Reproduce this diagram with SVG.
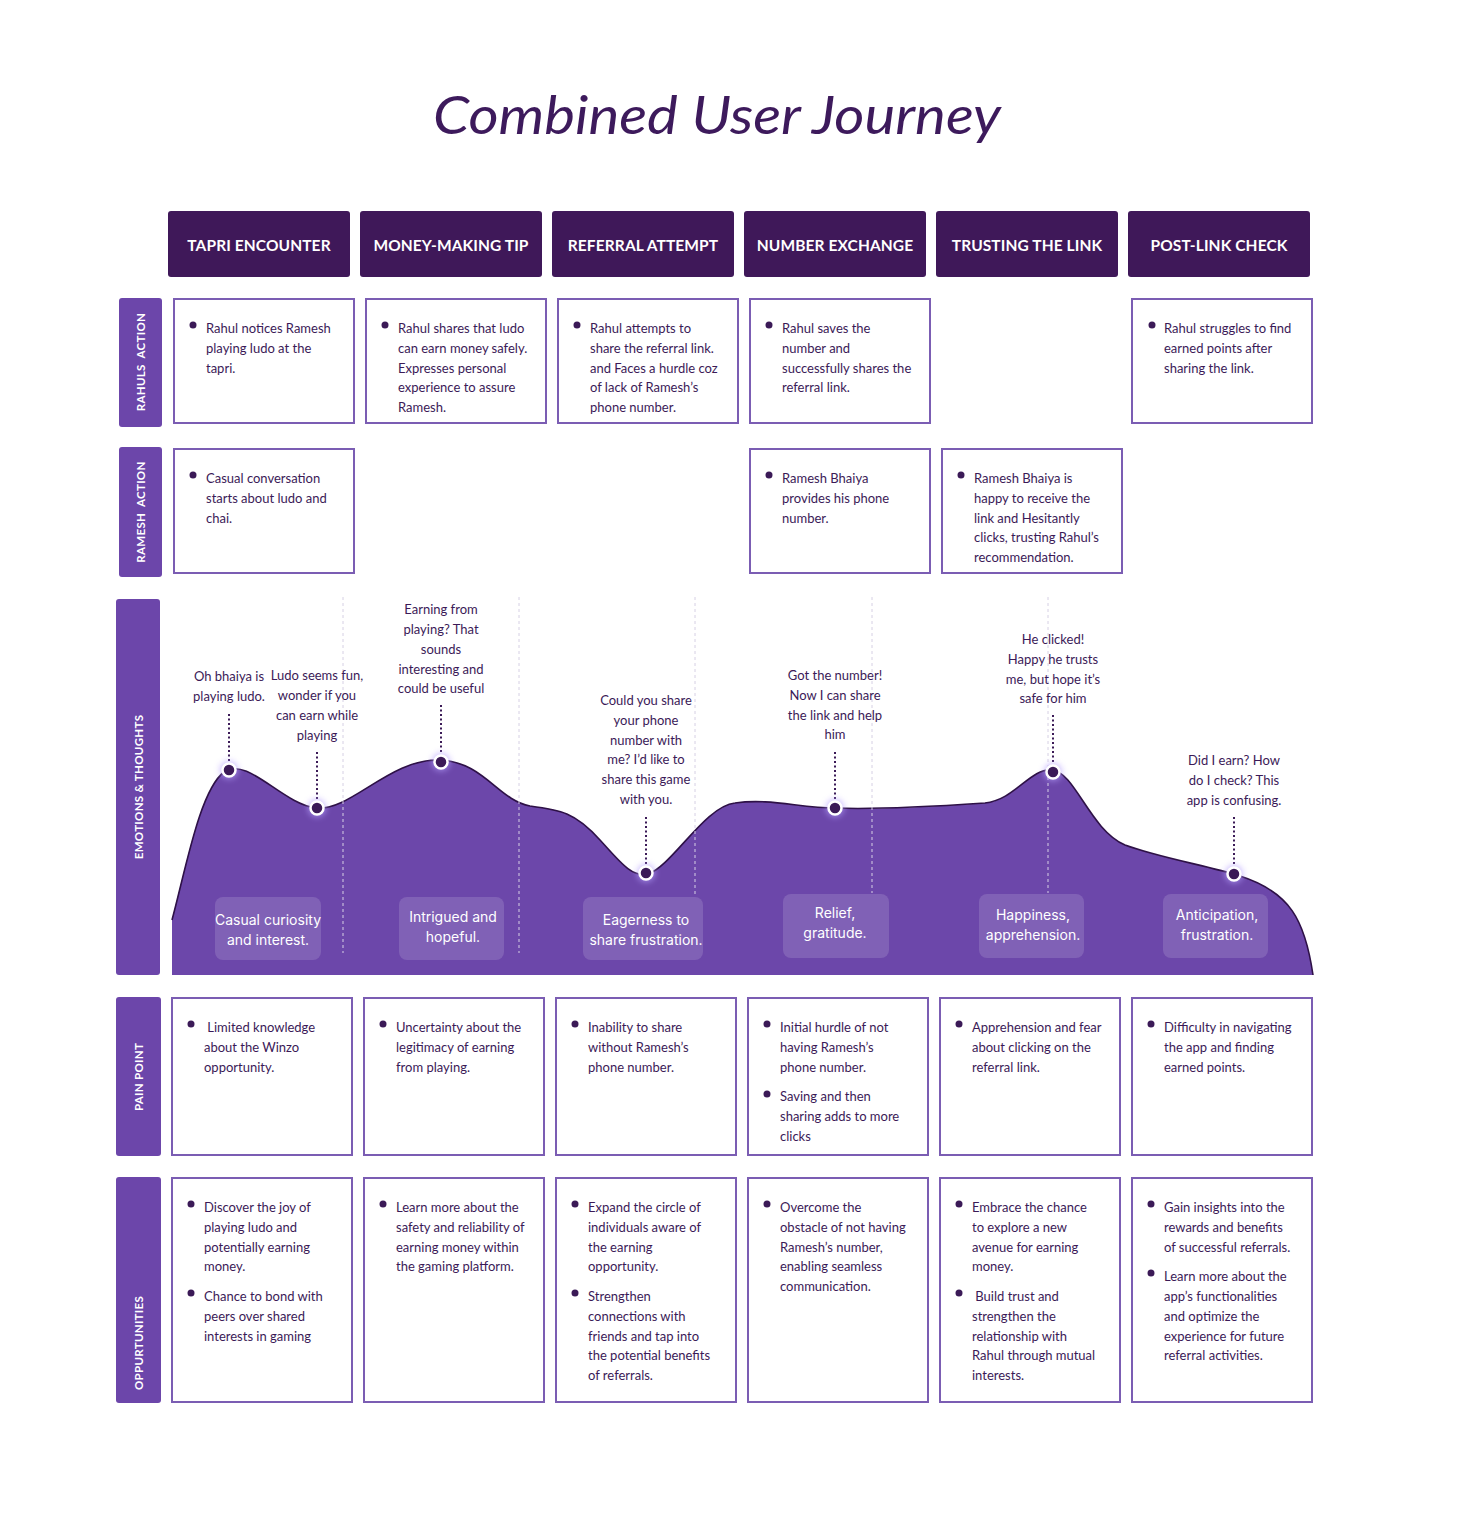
<svg xmlns="http://www.w3.org/2000/svg" width="1458" height="1536" viewBox="0 0 1458 1536">
  <defs>
    <style>
      .title { font-family: Lato, "Liberation Sans", sans-serif; font-style: italic; font-size: 52px; fill: #3d1a5c; }
      .hdr { fill: #3f1859; }
      .hdr-t { font-family: Lato, "Liberation Sans", sans-serif; font-weight: 700; font-size: 15.5px; fill: #ffffff; text-anchor: middle; letter-spacing: 0.1px; }
      .side { fill: #6c46aa; }
      .side-t { font-family: Lato, "Liberation Sans", sans-serif; font-weight: 700; font-size: 11.5px; fill: #ffffff; text-anchor: middle; letter-spacing: 0.3px; }
      .card { fill: #ffffff; stroke: #7b5db3; stroke-width: 2; }
      .body { font-family: Lato, "Liberation Sans", sans-serif; font-size: 13px; fill: #3b1a57; }
      .dot { fill: #3b1a57; }
      .thought { font-family: Lato, "Liberation Sans", sans-serif; font-size: 13px; fill: #3b1a57; text-anchor: middle; }
      .emo { fill: #ffffff; fill-opacity: 0.14; }
      .emo-t { font-family: Inter, "Liberation Sans", sans-serif; font-size: 14px; fill: #ffffff; text-anchor: middle; }
      .divider { stroke: #d6d0e4; stroke-width: 1; stroke-dasharray: 3 3; fill: none; }
      .link { stroke: #3b1a57; stroke-width: 2; stroke-dasharray: 2 2.5; fill: none; }
      .pt { fill: #3b1a57; stroke: #ffffff; stroke-width: 2.5; }
    </style>
    <filter id="glow" x="-100%" y="-100%" width="300%" height="300%">
      <feGaussianBlur stdDeviation="3"/>
    </filter>
  </defs>

  <rect width="1458" height="1536" fill="#ffffff"/>

  <text class="title" x="433" y="134" textLength="568" lengthAdjust="spacingAndGlyphs">Combined User Journey</text>

  <!-- Stage headers -->
  <g id="stage-tapri"><rect class="hdr" x="168" y="211" width="182" height="66" rx="3"/><text class="hdr-t" x="259" y="251">TAPRI ENCOUNTER</text></g>
  <g id="stage-money"><rect class="hdr" x="360" y="211" width="182" height="66" rx="3"/><text class="hdr-t" x="451" y="251">MONEY-MAKING TIP</text></g>
  <g id="stage-referral"><rect class="hdr" x="552" y="211" width="182" height="66" rx="3"/><text class="hdr-t" x="643" y="251">REFERRAL ATTEMPT</text></g>
  <g id="stage-number"><rect class="hdr" x="744" y="211" width="182" height="66" rx="3"/><text class="hdr-t" x="835" y="251">NUMBER EXCHANGE</text></g>
  <g id="stage-trust"><rect class="hdr" x="936" y="211" width="182" height="66" rx="3"/><text class="hdr-t" x="1027" y="251">TRUSTING THE LINK</text></g>
  <g id="stage-post"><rect class="hdr" x="1128" y="211" width="182" height="66" rx="3"/><text class="hdr-t" x="1219" y="251">POST-LINK CHECK</text></g>

  <!-- Row labels -->
  <g id="label-rahul"><rect class="side" x="119" y="298" width="43" height="129" rx="3"/><text class="side-t" xml:space="preserve" transform="translate(145,362) rotate(-90)">RAHULS  ACTION</text></g>
  <g id="label-ramesh"><rect class="side" x="119" y="447" width="43" height="130" rx="3"/><text class="side-t" xml:space="preserve" transform="translate(145,512) rotate(-90)">RAMESH  ACTION</text></g>
  <g id="label-emotions"><rect class="side" x="116" y="599" width="44" height="376" rx="3"/><text class="side-t" transform="translate(142.5,787) rotate(-90)">EMOTIONS &amp; THOUGHTS</text></g>
  <g id="label-pain"><rect class="side" x="116" y="997" width="45" height="159" rx="3"/><text class="side-t" transform="translate(143,1077) rotate(-90)">PAIN POINT</text></g>
  <g id="label-opps"><rect class="side" x="116" y="1177" width="45" height="226" rx="3"/><text class="side-t" transform="translate(143,1343) rotate(-90)">OPPURTUNITIES</text></g>

  <!-- Rahul's actions -->
  <g id="rahul-1"><rect class="card" x="174" y="299" width="180" height="124"/><circle class="dot" cx="193" cy="325" r="3.5"/>
    <text class="body"><tspan x="206" y="333">Rahul notices Ramesh</tspan><tspan x="206" y="353">playing ludo at the</tspan><tspan x="206" y="373">tapri.</tspan></text></g>
  <g id="rahul-2"><rect class="card" x="366" y="299" width="180" height="124"/><circle class="dot" cx="385" cy="325" r="3.5"/>
    <text class="body"><tspan x="398" y="333">Rahul shares that ludo</tspan><tspan x="398" y="353">can earn money safely.</tspan><tspan x="398" y="373">Expresses personal</tspan><tspan x="398" y="392">experience to assure</tspan><tspan x="398" y="412">Ramesh.</tspan></text></g>
  <g id="rahul-3"><rect class="card" x="558" y="299" width="180" height="124"/><circle class="dot" cx="577" cy="325" r="3.5"/>
    <text class="body"><tspan x="590" y="333">Rahul attempts to</tspan><tspan x="590" y="353">share the referral link.</tspan><tspan x="590" y="373">and Faces a hurdle coz</tspan><tspan x="590" y="392">of lack of Ramesh’s</tspan><tspan x="590" y="412">phone number.</tspan></text></g>
  <g id="rahul-4"><rect class="card" x="750" y="299" width="180" height="124"/><circle class="dot" cx="769" cy="325" r="3.5"/>
    <text class="body"><tspan x="782" y="333">Rahul saves the</tspan><tspan x="782" y="353">number and</tspan><tspan x="782" y="373">successfully shares the</tspan><tspan x="782" y="392">referral link.</tspan></text></g>
  <g id="rahul-6"><rect class="card" x="1132" y="299" width="180" height="124"/><circle class="dot" cx="1152" cy="325" r="3.5"/>
    <text class="body"><tspan x="1164" y="333">Rahul struggles to find</tspan><tspan x="1164" y="353">earned points after</tspan><tspan x="1164" y="373">sharing the link.</tspan></text></g>

  <!-- Ramesh's actions -->
  <g id="ramesh-1"><rect class="card" x="174" y="449" width="180" height="124"/><circle class="dot" cx="193" cy="475" r="3.5"/>
    <text class="body"><tspan x="206" y="483">Casual conversation</tspan><tspan x="206" y="503">starts about ludo and</tspan><tspan x="206" y="523">chai.</tspan></text></g>
  <g id="ramesh-4"><rect class="card" x="750" y="449" width="180" height="124"/><circle class="dot" cx="769" cy="475" r="3.5"/>
    <text class="body"><tspan x="782" y="483">Ramesh Bhaiya</tspan><tspan x="782" y="503">provides his phone</tspan><tspan x="782" y="523">number.</tspan></text></g>
  <g id="ramesh-5"><rect class="card" x="942" y="449" width="180" height="124"/><circle class="dot" cx="961" cy="475" r="3.5"/>
    <text class="body"><tspan x="974" y="483">Ramesh Bhaiya is</tspan><tspan x="974" y="503">happy to receive the</tspan><tspan x="974" y="523">link and Hesitantly</tspan><tspan x="974" y="542">clicks, trusting Rahul’s</tspan><tspan x="974" y="562">recommendation.</tspan></text></g>

  <!-- Emotion curve -->
  <g id="emotion-curve">
    <path fill="#6c47aa" d="M172,920 C186,868 200,790 224,772 C248,756 282,804 316,808 C350,812 390,758 440,760 C484,762 498,800 530,806 C560,810 575,812 600,840 C620,862 632,878 648,874 C672,866 705,806 735,803 C770,798 800,808 835,808 C880,810 940,806 985,803 C1015,800 1030,768 1052,770 C1075,772 1090,830 1125,845 C1160,858 1210,866 1240,876 C1290,892 1305,920 1313,975 L172,975 Z"/>
    <path fill="none" stroke="#2e1147" stroke-width="1.6" d="M172,920 C186,868 200,790 224,772 C248,756 282,804 316,808 C350,812 390,758 440,760 C484,762 498,800 530,806 C560,810 575,812 600,840 C620,862 632,878 648,874 C672,866 705,806 735,803 C770,798 800,808 835,808 C880,810 940,806 985,803 C1015,800 1030,768 1052,770 C1075,772 1090,830 1125,845 C1160,858 1210,866 1240,876 C1290,892 1305,920 1313,975"/>
  </g>

  <!-- Stage dividers -->
  <g id="dividers">
    <line class="divider" x1="343" y1="597" x2="343" y2="953"/>
    <line class="divider" x1="519" y1="597" x2="519" y2="953"/>
    <line class="divider" x1="695" y1="597" x2="695" y2="895"/>
    <line class="divider" x1="872" y1="597" x2="872" y2="893"/>
    <line class="divider" x1="1048" y1="597" x2="1048" y2="893"/>
  </g>

  <!-- Emotion tags -->
  <g id="emo-1"><rect class="emo" x="215" y="897" width="106" height="63" rx="8"/><text class="emo-t"><tspan x="268" y="925">Casual curiosity</tspan><tspan x="268" y="945">and interest.</tspan></text></g>
  <g id="emo-2"><rect class="emo" x="399" y="897" width="105" height="63" rx="8"/><text class="emo-t"><tspan x="453" y="922">Intrigued and</tspan><tspan x="453" y="942">hopeful.</tspan></text></g>
  <g id="emo-3"><rect class="emo" x="583" y="897" width="120" height="63" rx="8"/><text class="emo-t"><tspan x="646" y="925">Eagerness to</tspan><tspan x="646" y="945">share frustration.</tspan></text></g>
  <g id="emo-4"><rect class="emo" x="783" y="894" width="106" height="64" rx="8"/><text class="emo-t"><tspan x="835" y="918">Relief,</tspan><tspan x="835" y="938">gratitude.</tspan></text></g>
  <g id="emo-5"><rect class="emo" x="979" y="894" width="105" height="64" rx="8"/><text class="emo-t"><tspan x="1033" y="920">Happiness,</tspan><tspan x="1033" y="940">apprehension.</tspan></text></g>
  <g id="emo-6"><rect class="emo" x="1163" y="894" width="105" height="64" rx="8"/><text class="emo-t"><tspan x="1217" y="920">Anticipation,</tspan><tspan x="1217" y="940">frustration.</tspan></text></g>

  <!-- Thoughts -->
  <g id="thought-1"><text class="thought"><tspan x="229" y="681">Oh bhaiya is</tspan><tspan x="229" y="701">playing ludo.</tspan></text></g>
  <g id="thought-2"><text class="thought"><tspan x="317" y="680">Ludo seems fun,</tspan><tspan x="317" y="700">wonder if you</tspan><tspan x="317" y="720">can earn while</tspan><tspan x="317" y="740">playing</tspan></text></g>
  <g id="thought-3"><text class="thought"><tspan x="441" y="614">Earning from</tspan><tspan x="441" y="634">playing? That</tspan><tspan x="441" y="654">sounds</tspan><tspan x="441" y="674">interesting and</tspan><tspan x="441" y="693">could be useful</tspan></text></g>
  <g id="thought-4"><text class="thought"><tspan x="646" y="705">Could you share</tspan><tspan x="646" y="725">your phone</tspan><tspan x="646" y="745">number with</tspan><tspan x="646" y="764">me? I’d like to</tspan><tspan x="646" y="784">share this game</tspan><tspan x="646" y="804">with you.</tspan></text></g>
  <g id="thought-5"><text class="thought"><tspan x="835" y="680">Got the number!</tspan><tspan x="835" y="700">Now I can share</tspan><tspan x="835" y="720">the link and help</tspan><tspan x="835" y="739">him</tspan></text></g>
  <g id="thought-6"><text class="thought"><tspan x="1053" y="644">He clicked!</tspan><tspan x="1053" y="664">Happy he trusts</tspan><tspan x="1053" y="684">me, but hope it’s</tspan><tspan x="1053" y="703">safe for him</tspan></text></g>
  <g id="thought-7"><text class="thought"><tspan x="1234" y="765">Did I earn? How</tspan><tspan x="1234" y="785">do I check? This</tspan><tspan x="1234" y="805">app is confusing.</tspan></text></g>

  <!-- Connectors from thoughts to curve points -->
  <g id="connectors">
    <line class="link" x1="229" y1="714" x2="229" y2="762"/>
    <line class="link" x1="317" y1="752" x2="317" y2="800"/>
    <line class="link" x1="441" y1="705" x2="441" y2="754"/>
    <line class="link" x1="646" y1="817" x2="646" y2="865"/>
    <line class="link" x1="835" y1="752" x2="835" y2="800"/>
    <line class="link" x1="1053" y1="715" x2="1053" y2="764"/>
    <line class="link" x1="1234" y1="817" x2="1234" y2="866"/>
  </g>

  <!-- Curve points -->
  <g id="points">
    <g fill="#b8a2ff" opacity="0.7" filter="url(#glow)">
      <circle cx="229" cy="770" r="9"/><circle cx="317" cy="808" r="9"/><circle cx="441" cy="762" r="9"/><circle cx="646" cy="873" r="9"/><circle cx="835" cy="808" r="9"/><circle cx="1053" cy="772" r="9"/><circle cx="1234" cy="874" r="9"/>
    </g>
    <circle class="pt" cx="229" cy="770" r="6.5"/>
    <circle class="pt" cx="317" cy="808" r="6.5"/>
    <circle class="pt" cx="441" cy="762" r="6.5"/>
    <circle class="pt" cx="646" cy="873" r="6.5"/>
    <circle class="pt" cx="835" cy="808" r="6.5"/>
    <circle class="pt" cx="1053" cy="772" r="6.5"/>
    <circle class="pt" cx="1234" cy="874" r="6.5"/>
  </g>

  <!-- Pain points -->
  <g id="pain-1"><rect class="card" x="172" y="998" width="180" height="157"/><circle class="dot" cx="191" cy="1024" r="3.5"/>
    <text class="body" xml:space="preserve"><tspan x="204" y="1032"> Limited knowledge</tspan><tspan x="204" y="1052">about the Winzo</tspan><tspan x="204" y="1072">opportunity.</tspan></text></g>
  <g id="pain-2"><rect class="card" x="364" y="998" width="180" height="157"/><circle class="dot" cx="383" cy="1024" r="3.5"/>
    <text class="body"><tspan x="396" y="1032">Uncertainty about the</tspan><tspan x="396" y="1052">legitimacy of earning</tspan><tspan x="396" y="1072">from playing.</tspan></text></g>
  <g id="pain-3"><rect class="card" x="556" y="998" width="180" height="157"/><circle class="dot" cx="575" cy="1024" r="3.5"/>
    <text class="body"><tspan x="588" y="1032">Inability to share</tspan><tspan x="588" y="1052">without Ramesh’s</tspan><tspan x="588" y="1072">phone number.</tspan></text></g>
  <g id="pain-4"><rect class="card" x="748" y="998" width="180" height="157"/><circle class="dot" cx="767" cy="1024" r="3.5"/><circle class="dot" cx="767" cy="1094" r="3.5"/>
    <text class="body"><tspan x="780" y="1032">Initial hurdle of not</tspan><tspan x="780" y="1052">having Ramesh’s</tspan><tspan x="780" y="1072">phone number.</tspan><tspan x="780" y="1101">Saving and then</tspan><tspan x="780" y="1121">sharing adds to more</tspan><tspan x="780" y="1141">clicks</tspan></text></g>
  <g id="pain-5"><rect class="card" x="940" y="998" width="180" height="157"/><circle class="dot" cx="959" cy="1024" r="3.5"/>
    <text class="body"><tspan x="972" y="1032">Apprehension and fear</tspan><tspan x="972" y="1052">about clicking on the</tspan><tspan x="972" y="1072">referral link.</tspan></text></g>
  <g id="pain-6"><rect class="card" x="1132" y="998" width="180" height="157"/><circle class="dot" cx="1151" cy="1024" r="3.5"/>
    <text class="body"><tspan x="1164" y="1032">Difficulty in navigating</tspan><tspan x="1164" y="1052">the app and finding</tspan><tspan x="1164" y="1072">earned points.</tspan></text></g>

  <!-- Opportunities -->
  <g id="opp-1"><rect class="card" x="172" y="1178" width="180" height="224"/><circle class="dot" cx="191" cy="1204" r="3.5"/><circle class="dot" cx="191" cy="1293" r="3.5"/>
    <text class="body"><tspan x="204" y="1212">Discover the joy of</tspan><tspan x="204" y="1232">playing ludo and</tspan><tspan x="204" y="1252">potentially earning</tspan><tspan x="204" y="1271">money.</tspan><tspan x="204" y="1301">Chance to bond with</tspan><tspan x="204" y="1321">peers over shared</tspan><tspan x="204" y="1341">interests in gaming</tspan></text></g>
  <g id="opp-2"><rect class="card" x="364" y="1178" width="180" height="224"/><circle class="dot" cx="383" cy="1204" r="3.5"/>
    <text class="body"><tspan x="396" y="1212">Learn more about the</tspan><tspan x="396" y="1232">safety and reliability of</tspan><tspan x="396" y="1252">earning money within</tspan><tspan x="396" y="1271">the gaming platform.</tspan></text></g>
  <g id="opp-3"><rect class="card" x="556" y="1178" width="180" height="224"/><circle class="dot" cx="575" cy="1204" r="3.5"/><circle class="dot" cx="575" cy="1293" r="3.5"/>
    <text class="body"><tspan x="588" y="1212">Expand the circle of</tspan><tspan x="588" y="1232">individuals aware of</tspan><tspan x="588" y="1252">the earning</tspan><tspan x="588" y="1271">opportunity.</tspan><tspan x="588" y="1301">Strengthen</tspan><tspan x="588" y="1321">connections with</tspan><tspan x="588" y="1341">friends and tap into</tspan><tspan x="588" y="1360">the potential benefits</tspan><tspan x="588" y="1380">of referrals.</tspan></text></g>
  <g id="opp-4"><rect class="card" x="748" y="1178" width="180" height="224"/><circle class="dot" cx="767" cy="1204" r="3.5"/>
    <text class="body"><tspan x="780" y="1212">Overcome the</tspan><tspan x="780" y="1232">obstacle of not having</tspan><tspan x="780" y="1252">Ramesh’s number,</tspan><tspan x="780" y="1271">enabling seamless</tspan><tspan x="780" y="1291">communication.</tspan></text></g>
  <g id="opp-5"><rect class="card" x="940" y="1178" width="180" height="224"/><circle class="dot" cx="959" cy="1204" r="3.5"/><circle class="dot" cx="959" cy="1293" r="3.5"/>
    <text class="body" xml:space="preserve"><tspan x="972" y="1212">Embrace the chance</tspan><tspan x="972" y="1232">to explore a new</tspan><tspan x="972" y="1252">avenue for earning</tspan><tspan x="972" y="1271">money.</tspan><tspan x="972" y="1301"> Build trust and</tspan><tspan x="972" y="1321">strengthen the</tspan><tspan x="972" y="1341">relationship with</tspan><tspan x="972" y="1360">Rahul through mutual</tspan><tspan x="972" y="1380">interests.</tspan></text></g>
  <g id="opp-6"><rect class="card" x="1132" y="1178" width="180" height="224"/><circle class="dot" cx="1151" cy="1204" r="3.5"/><circle class="dot" cx="1151" cy="1273" r="3.5"/>
    <text class="body"><tspan x="1164" y="1212">Gain insights into the</tspan><tspan x="1164" y="1232">rewards and benefits</tspan><tspan x="1164" y="1252">of successful referrals.</tspan><tspan x="1164" y="1281">Learn more about the</tspan><tspan x="1164" y="1301">app’s functionalities</tspan><tspan x="1164" y="1321">and optimize the</tspan><tspan x="1164" y="1341">experience for future</tspan><tspan x="1164" y="1360">referral activities.</tspan></text></g>
</svg>
